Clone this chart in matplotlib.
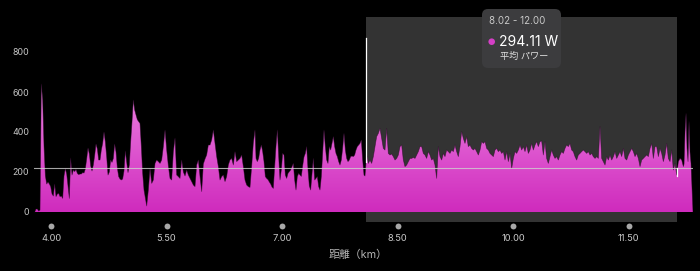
import numpy as np
import matplotlib.pyplot as plt
import matplotlib.transforms as mtransforms
from matplotlib.colors import LinearSegmentedColormap
from matplotlib.patches import FancyBboxPatch, Circle

plt.rcParams['font.family'] = ['Inter', 'Noto Sans CJK JP', 'DejaVu Sans']

seg_km = [(3.788, 5.207), (5.242, 6.648), (6.661, 8.063), (8.076, 9.504),
          (9.526, 10.932), (10.954, 12.209), (12.218, 12.334)]
seg1 = [0, 15, 15, 5, 10, 640, 560, 327, 180, 140,
        150, 140, 127, 90, 80, 140, 77, 90, 93, 77,
        80, 68, 180, 218, 190, 130, 68, 270, 185, 210,
        202, 213, 193, 187, 190, 190, 197, 195, 215, 265,
        320, 290, 230, 205, 235, 282, 340, 315, 260, 260,
        310, 343, 400, 350, 275, 185, 200, 260, 248, 268,
        340, 300, 220, 177, 165, 160, 165, 205, 305, 250,
        197, 235, 350, 450, 560, 510, 485, 462, 452, 443,
        327, 193, 110]
seg2 = [30, 110, 218, 143, 160, 243, 260, 252, 243, 260,
        327, 410, 310, 230, 168, 160, 300, 370, 185, 177,
        168, 260, 200, 180, 210, 185, 168, 152, 135, 127,
        235, 260, 177, 102, 240, 265, 285, 335, 335, 360,
        410, 343, 277, 227, 160, 177, 185, 152, 177, 235,
        260, 268, 235, 302, 252, 260, 268, 285, 227, 160,
        135, 127, 123, 227, 343, 410]
seg3 = [268, 252, 268, 310, 335, 302, 252, 177, 168, 162,
        150, 140, 125, 118, 227, 327, 410, 277, 160, 210,
        293, 285, 185, 168, 193, 202, 210, 227, 243, 160,
        110, 177, 193, 185, 178, 230, 275, 293, 327, 210,
        130, 110, 190, 268, 160, 168, 177, 127, 110, 177,
        293, 410, 327, 260, 243, 327, 310, 343, 377, 327,
        293, 277, 252, 235, 260, 318, 393, 310, 268, 252,
        260, 277, 280, 277, 285, 310, 327, 335, 343, 360,
        260, 185]
seg4 = [180, 285, 243, 260, 243, 277, 327, 377, 393, 418,
        368, 318, 310, 418, 293, 285, 290, 277, 260, 268,
        285, 327, 335, 260, 227, 235, 252, 268, 268, 273,
        268, 285, 302, 327, 327, 293, 285, 268, 302, 285,
        260, 268, 235, 168, 327, 277, 260, 293, 277, 310,
        302, 293, 310, 302, 335, 302, 277, 327, 402, 368,
        343, 377, 327, 335, 318, 310, 318]
seg5 = [302, 285, 310, 352, 343, 352, 318, 310, 293, 285,
        277, 310, 318, 302, 310, 293, 302, 260, 302, 252,
        293, 218, 268, 302, 293, 310, 335, 310, 327, 302,
        335, 293, 310, 343, 310, 335, 352, 327, 352, 355,
        285, 352, 268, 243, 277, 310, 285, 268, 277, 260,
        285, 302, 293, 318, 335, 327, 343, 310, 302, 277,
        260, 285, 293, 302, 310, 302]
seg6 = [293, 302, 285, 293, 277, 268, 277, 268, 427, 268,
        252, 235, 277, 260, 285, 260, 277, 302, 268, 285,
        302, 277, 318, 268, 260, 285, 302, 318, 302, 277,
        293, 268, 227, 260, 268, 277, 285, 277, 318, 343,
        268, 327, 327, 277, 318, 293, 252, 285, 343, 268,
        252, 310, 210, 243, 185, 252, 268, 260, 227]
tail = [240, 400, 493, 320, 252, 452, 300, 243, 120, 0]
segs = [seg1, seg2, seg3, seg4, seg5, seg6, tail]

xticks = [4.00, 5.50, 7.00, 8.50, 10.00, 11.50]
yticks = [0, 200, 400, 600, 800]
avg_power = 218
sel_range = (8.09, 12.13)
sel_label = '8.02 - 12.00'
sel_value = '294.11 W'
sel_name = '平均 パワー'
xlabel = '距離（km）'

dist = np.concatenate([np.linspace(a, b, len(p)) for (a, b), p in zip(seg_km, segs)])
power = np.concatenate([np.asarray(p, float) for p in segs])

W, H = 700, 271
fig = plt.figure(figsize=(W / 100, H / 100), dpi=100, facecolor='black')
ax = fig.add_axes([34 / W, 1 - 221.7 / H, (693.3 - 34) / W, (221.7 - 17) / H])
ax.set_facecolor('black')
for s in ax.spines.values():
    s.set_visible(False)

ax.axvspan(*sel_range, color='#333333', lw=0, zorder=0)

# magenta area with a vertical gradient
poly = ax.fill_between(dist, power, 0, color='none', lw=0)
cmap = LinearSegmentedColormap.from_list('pw', ['#cf2bbd', '#ee84e3'])
grad = np.linspace(0, 1, 256).reshape(-1, 1)
im = ax.imshow(grad, cmap=cmap, aspect='auto', origin='lower',
               extent=[dist[0], dist[-1], 0, 650], zorder=2, interpolation='bilinear')
im.set_clip_path(poly.get_paths()[0], transform=ax.transData)
ax.plot(dist, power, color='#2a0826', lw=0.5, alpha=0.6, zorder=3)

ax.axhline(avg_power, color='#d0d0d0', lw=0.8, alpha=0.8, zorder=4)
ax.plot([sel_range[0]] * 2, [np.interp(sel_range[0], dist, power), 870], color='white', lw=0.9, zorder=5)
ax.plot([sel_range[1]] * 2, [avg_power, 180], color='white', lw=0.9, zorder=5)

ax.set_xlim(3.779, 12.338)
ax.set_ylim(-48.5, 975)
ax.set_yticks(yticks)
ax.set_xticks(xticks, labels=['%.2f' % v for v in xticks])
ax.tick_params(axis='y', length=0, pad=3.6, labelcolor='#c4c4c4', labelsize=6.4)
ax.tick_params(axis='x', length=0, pad=9, labelcolor='#c8c8c8', labelsize=6.7)
trans = mtransforms.blended_transform_factory(ax.transData, ax.transAxes)
ax.scatter(xticks, [-0.021] * len(xticks), s=18, color='#a8a8a8', transform=trans, clip_on=False, lw=0)

fig.text(358 / W, 1 - 255 / H, xlabel, ha='center', va='center', color='#b4b4b4', fontsize=7.8)

# tooltip
px = mtransforms.IdentityTransform()
fig.add_artist(FancyBboxPatch((482, H - 68), 79, 59, boxstyle='round,pad=0,rounding_size=6',
                              transform=px, facecolor='#3c3c3e', edgecolor='none'))
fig.add_artist(Circle((491.7, H - 41.7), 3.3, transform=px, facecolor='#d43fc6', edgecolor='none'))
fig.text(489 / W, 1 - 20.7 / H, sel_label, color='#c8c8c8', fontsize=7.0, va='center')
fig.text(499 / W, 1 - 41.7 / H, sel_value, color='white', fontsize=10, va='center')
fig.text(500 / W, 1 - 56.7 / H, sel_name, color='#e0e0e0', fontsize=6.6, va='center')

fig.savefig('out.png', dpi=100, facecolor='black')
